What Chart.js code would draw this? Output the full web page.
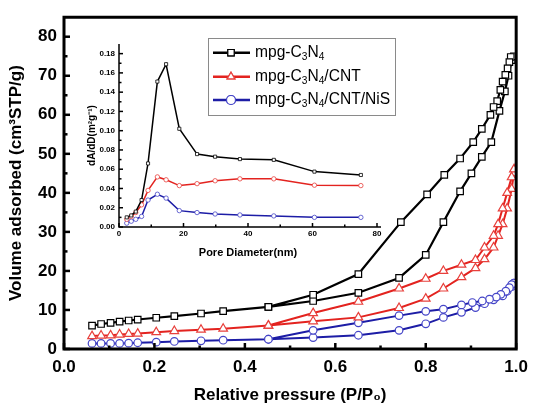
<!DOCTYPE html>
<html>
<head>
<meta charset="utf-8">
<script src="https://cdn.jsdelivr.net/npm/chart.js@4.4.1/dist/chart.umd.min.js"></script>
<style>
  body { margin: 0; background: #fff; }
  #wrap { position: relative; width: 536px; height: 408px; }
  #mainChart { position: absolute; left: 0; top: 0; }
  #insetChart { position: absolute; left: 60px; top: 28px; }
</style>
</head>
<body>
<div id="wrap">
  <canvas id="mainChart" width="536" height="408"></canvas>
  <canvas id="insetChart" width="340" height="240"></canvas>
</div>
<script>
// isotherms: relative pressure P/P0 and volume adsorbed (cm3 STP/g)
const lowP = [0.062, 0.082, 0.103, 0.123, 0.143, 0.163, 0.204, 0.244, 0.303, 0.352, 0.452];

const c3n4AdsP = [0.551, 0.651, 0.741, 0.80, 0.839, 0.876, 0.901, 0.924, 0.945, 0.963, 0.975, 0.983, 0.99];
const c3n4Low = [6.0, 6.4, 6.7, 7.0, 7.3, 7.55, 8.0, 8.4, 9.1, 9.7, 10.8];
const c3n4Ads = [12.3, 14.4, 18.2, 24.1, 32.5, 40.4, 45.0, 49.2, 53.0, 61.0, 66.0, 70.0, 74.0];
const c3n4DesP = [0.995, 0.988, 0.985, 0.981, 0.976, 0.970, 0.965, 0.958, 0.950, 0.943, 0.924, 0.905, 0.876, 0.841, 0.803, 0.745, 0.651, 0.551, 0.452];
const c3n4Des = [75.0, 74.8, 73.5, 71.9, 70.2, 68.5, 66.4, 63.5, 62.0, 60.0, 56.4, 53.0, 48.8, 44.6, 39.6, 32.5, 19.2, 13.9, 10.8];

const cntAdsP = [0.551, 0.651, 0.741, 0.80, 0.839, 0.879, 0.91, 0.93, 0.95, 0.96, 0.97, 0.98, 0.99, 0.995];
const cntLow = [3.3, 3.45, 3.5, 3.7, 3.85, 3.95, 4.3, 4.6, 4.95, 5.2, 6.0];
const cntAds = [7.1, 8.1, 10.5, 12.9, 15.5, 18.4, 20.7, 23.0, 26.0, 29.0, 32.0, 36.0, 41.0, 45.0];
const cntDesP = [0.995, 0.99, 0.98, 0.97, 0.96, 0.95, 0.93, 0.91, 0.879, 0.839, 0.80, 0.741, 0.651, 0.551, 0.452];
const cntDes = [46.0, 44.0, 40.0, 36.0, 32.0, 29.0, 26.0, 22.8, 21.6, 20.0, 18.0, 15.5, 12.1, 9.2, 6.0];

const nisAdsP = [0.551, 0.651, 0.741, 0.80, 0.839, 0.879, 0.91, 0.93, 0.95, 0.97, 0.98, 0.99, 0.995];
const nisLow = [1.43, 1.43, 1.43, 1.43, 1.5, 1.6, 1.76, 1.93, 2.1, 2.26, 2.5];
const nisAds = [2.93, 3.52, 4.78, 6.45, 8.1, 9.4, 10.6, 11.6, 12.6, 13.6, 14.8, 16.0, 16.9];
const nisDesP = [0.995, 0.99, 0.985, 0.977, 0.966, 0.956, 0.941, 0.925, 0.903, 0.879, 0.839, 0.80, 0.741, 0.651, 0.551, 0.452];
const nisDes = [16.9, 16.5, 15.7, 14.8, 14.0, 13.3, 12.75, 12.3, 11.9, 11.3, 10.2, 9.65, 8.55, 6.7, 4.78, 2.5];

// inset: pore size distribution
const poreD = [2.4, 3.8, 5.2, 7.0, 9.0, 11.9, 14.6, 18.7, 24.2, 29.8, 37.5, 48, 60.6, 75];
const psdC3n4 = [0.010, 0.012, 0.016, 0.028, 0.066, 0.151, 0.169, 0.102, 0.0757, 0.073, 0.0705, 0.0697, 0.0575, 0.054];
const psdCnt = [0.008, 0.011, 0.015, 0.023, 0.038, 0.052, 0.049, 0.043, 0.045, 0.048, 0.050, 0.050, 0.0434, 0.043];
const psdNis = [0.004, 0.006, 0.008, 0.011, 0.028, 0.034, 0.030, 0.017, 0.015, 0.0135, 0.0125, 0.0115, 0.010, 0.010];

const seriesNames = ['mpg-C₃N₄', 'mpg-C₃N₄/CNT', 'mpg-C₃N₄/CNT/NiS'];
const lineColors = ['#000000', '#e3231f', '#1d1da6'];
const markColors = ['#000000', '#e8403c', '#4545c8'];
const markStyles = ['rect', 'triangle', 'circle'];

function zip(xs, ys) {
    return xs.map((x, i) => ({ x: x, y: ys[i] }));
}

function loop(low, adsP, ads, desP, des) {
    return zip(lowP, low).concat(zip(adsP, ads), zip(desP, des));
}

const FONT = "'Liberation Sans', Arial, sans-serif";

// frame + inward ticks, drawn from the scale positions
const boxTicks = {
    id: 'boxTicks',
    afterDatasetsDraw(chart, args, opts) {
        const ctx = chart.ctx;
        const a = chart.chartArea;
        const x = chart.scales.x, y = chart.scales.y;
        ctx.save();
        ctx.strokeStyle = '#000';
        ctx.lineCap = 'butt';

        ctx.lineWidth = opts.tickWidth;
        const xt = x.ticks.map(t => t.value);
        const yt = y.ticks.map(t => t.value);
        const drawX = (v, len) => {
            const px = x.getPixelForValue(v);
            ctx.beginPath(); ctx.moveTo(px, a.bottom); ctx.lineTo(px, a.bottom - len); ctx.stroke();
        };
        const drawY = (v, len) => {
            const py = y.getPixelForValue(v);
            ctx.beginPath(); ctx.moveTo(a.left, py); ctx.lineTo(a.left + len, py); ctx.stroke();
        };
        xt.forEach((v, i) => {
            drawX(v, opts.major);
            if (i < xt.length - 1) drawX((v + xt[i + 1]) / 2, opts.minor);
        });
        yt.forEach((v, i) => {
            drawY(v, opts.major);
            if (i < yt.length - 1) drawY((v + yt[i + 1]) / 2, opts.minor);
        });

        ctx.lineWidth = opts.frameWidth;
        ctx.beginPath();
        if (opts.full) {
            ctx.rect(a.left, a.top, a.right - a.left, a.bottom - a.top);
        } else {
            ctx.moveTo(a.left, a.top);
            ctx.lineTo(a.left, a.bottom);
            ctx.lineTo(a.right + 4, a.bottom);
        }
        ctx.stroke();
        ctx.restore();
    }
};

function drawSub(ctx, parts, x, y, size) {
    // parts: [text, isSub]
    let cx = x;
    parts.forEach(p => {
        ctx.font = (p[1] ? size * 0.65 : size) + 'px ' + FONT;
        ctx.fillText(p[0], cx, p[1] ? y + size * 0.3 : y);
        cx += ctx.measureText(p[0]).width;
    });
}

const boxLegend = {
    id: 'boxLegend',
    afterDraw(chart, args, opts) {
        const ctx = chart.ctx;
        ctx.save();
        ctx.strokeStyle = '#8a8a8a';
        ctx.lineWidth = 1;
        ctx.strokeRect(opts.x + 0.5, opts.y + 0.5, opts.w, opts.h);
        ctx.textBaseline = 'middle';
        ctx.fillStyle = '#000';
        const texts = [
            [['mpg-C', 0], ['3', 1], ['N', 0], ['4', 1]],
            [['mpg-C', 0], ['3', 1], ['N', 0], ['4', 1], ['/CNT', 0]],
            [['mpg-C', 0], ['3', 1], ['N', 0], ['4', 1], ['/CNT/NiS', 0]]
        ];
        chart.data.datasets.forEach((ds, i) => {
            const ry = opts.y + opts.rows[i];
            ctx.strokeStyle = ds.borderColor;
            ctx.lineWidth = 2.5;
            ctx.beginPath();
            ctx.moveTo(opts.x + 5, ry); ctx.lineTo(opts.x + 42, ry);
            ctx.stroke();
            ctx.fillStyle = '#fff';
            ctx.strokeStyle = markColors[i];
            ctx.lineWidth = 1.2;
            Chart.helpers.drawPoint(ctx, { pointStyle: markStyles[i], radius: 4.5, borderWidth: 1.2 }, opts.x + 23, ry);
            ctx.fill(); ctx.stroke();
            ctx.fillStyle = '#000';
            drawSub(ctx, texts[i], opts.x + 47, ry, 15.6);
        });
        ctx.restore();
    }
};

const mainSets = [
    loop(c3n4Low, c3n4AdsP, c3n4Ads, c3n4DesP, c3n4Des),
    loop(cntLow, cntAdsP, cntAds, cntDesP, cntDes),
    loop(nisLow, nisAdsP, nisAds, nisDesP, nisDes)
];
const mainRadius = [4.6, 5, 3.8];
const mainWidth = [2.2, 2, 2];

new Chart(document.getElementById('mainChart'), {
    type: 'scatter',
    data: {
        datasets: mainSets.map((pts, i) => ({
            label: seriesNames[i],
            data: pts,
            showLine: true,
            borderColor: lineColors[i],
            borderWidth: mainWidth[i],
            pointStyle: markStyles[i],
            pointRadius: mainRadius[i],
            pointBorderColor: markColors[i],
            pointBorderWidth: 1.2,
            pointBackgroundColor: '#fff',
            tension: 0
        }))
    },
    options: {
        responsive: false,
        animation: false,
        layout: { padding: { left: 0, right: 14, top: 12, bottom: 0 } },
        plugins: {
            legend: { display: false },
            tooltip: { enabled: false },
            boxTicks: { full: true, frameWidth: 3, tickWidth: 2.5, major: 6, minor: 3.5 }
        },
        scales: {
            x: {
                type: 'linear', min: 0, max: 1,
                grid: { display: false, drawTicks: false, tickLength: 0 }, border: { display: false },
                ticks: { stepSize: 0.2, color: '#000', padding: 8, maxRotation: 0,
                         font: { family: FONT, size: 17, weight: 'bold' },
                         callback: v => v.toFixed(1) },
                title: { display: true, text: 'Relative pressure (P/P₀)', color: '#000',
                         font: { family: FONT, size: 17, weight: 'bold' }, padding: { top: 4, bottom: 2 } },
                afterFit(s) { s.height = 59; }
            },
            y: {
                type: 'linear', min: 0, max: 85,
                grid: { display: false, drawTicks: false, tickLength: 0 }, border: { display: false },
                ticks: { stepSize: 10, color: '#000', padding: 7,
                         font: { family: FONT, size: 17, weight: 'bold' } },
                afterBuildTicks(s) { s.ticks = s.ticks.filter(t => t.value <= 80); },
                title: { display: true, text: 'Volume adsorbed (cm³STP/g)', color: '#000',
                         font: { family: FONT, size: 17, weight: 'bold' }, padding: { top: 6, bottom: 0 } },
                afterFit(s) { s.width = 64; }
            }
        }
    },
    plugins: [boxTicks]
});

const insetSets = [psdC3n4, psdCnt, psdNis];
const insetStyles = ['rect', 'circle', 'circle'];

new Chart(document.getElementById('insetChart'), {
    type: 'scatter',
    data: {
        datasets: insetSets.map((vals, i) => ({
            label: seriesNames[i],
            data: zip(poreD, vals),
            showLine: true,
            borderColor: lineColors[i],
            borderWidth: 1.5,
            pointStyle: insetStyles[i],
            pointRadius: 2.2,
            pointBorderColor: markColors[i],
            pointBorderWidth: 0.8,
            pointBackgroundColor: '#fff',
            tension: 0
        }))
    },
    options: {
        responsive: false,
        animation: false,
        layout: { padding: { left: 0, right: 23, top: 16, bottom: 0 } },
        plugins: {
            legend: { display: false },
            tooltip: { enabled: false },
            boxTicks: { full: false, frameWidth: 1.5, tickWidth: 1.5, major: 4, minor: 2.5 },
            boxLegend: { x: 148, y: 10, w: 187, h: 77, rows: [14.7, 38.7, 62] }
        },
        scales: {
            x: {
                type: 'linear', min: 0, max: 80,
                grid: { display: false, drawTicks: false, tickLength: 0 }, border: { display: false },
                ticks: { stepSize: 20, color: '#000', padding: 2, maxRotation: 0,
                         font: { family: FONT, size: 8, weight: 'bold' } },
                title: { display: true, text: 'Pore Diameter(nm)', color: '#000',
                         font: { family: FONT, size: 11, weight: 'bold' }, padding: { top: 2, bottom: 8 } },
                afterFit(s) { s.height = 41; }
            },
            y: {
                type: 'linear', min: 0, max: 0.19,
                grid: { display: false, drawTicks: false, tickLength: 0 }, border: { display: false },
                ticks: { stepSize: 0.02, color: '#000', padding: 4,
                         font: { family: FONT, size: 8, weight: 'bold' },
                         callback: v => v.toFixed(2) },
                afterBuildTicks(s) { s.ticks = s.ticks.filter(t => t.value <= 0.1801); },
                title: { display: true, text: 'dA/dD(m²g⁻¹)', color: '#000',
                         font: { family: FONT, size: 10, weight: 'bold' }, padding: { top: 26, bottom: 2 } },
                afterFit(s) { s.width = 59; }
            }
        }
    },
    plugins: [boxTicks, boxLegend]
});
</script>
</body>
</html>
